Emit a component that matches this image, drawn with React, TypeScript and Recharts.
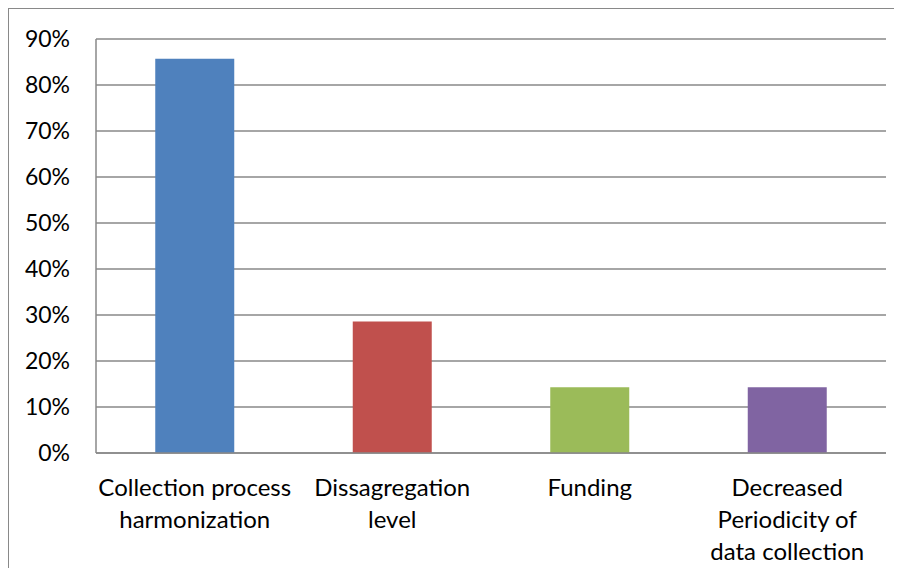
import React from 'react';
import { BarChart, Bar, XAxis, YAxis, CartesianGrid, Cell } from 'recharts';

const categories = [
    'Collection process\nharmonization',
    'Dissagregation\nlevel',
    'Funding',
    'Decreased\nPeriodicity of\ndata collection',
];
const shares = [0.857, 0.286, 0.143, 0.143];
const barColors = ['#4F81BD', '#C0504D', '#9BBB59', '#8064A2'];
const yTicks = [0, 0.1, 0.2, 0.3, 0.4, 0.5, 0.6, 0.7, 0.8, 0.9];

const FONT = 'Lato, "Open Sans", sans-serif';
const AXIS_GRAY = '#898989';

const data = categories.map((name, i) => ({ name, value: shares[i] }));

// multi-line category label, one tspan per line
const CategoryTick = ({ x, y, payload }: any) => {
    const lines = String(payload.value).split('\n');
    return (
        <text x={x} y={y} textAnchor="middle" fill="#000" fontSize={24} fontFamily={FONT}>
            {lines.map((line, i) => (
                <tspan key={i} x={x} dy={i === 0 ? 43 : 32}>
                    {line}
                </tspan>
            ))}
        </text>
    );
};

const App: React.FC = () => {
    return (
        <>
            {/* no scrollbars: the frame runs to the window edge like the source image */}
            <style>{'html, body { overflow: hidden; }'}</style>
            <div
                style={{
                    boxSizing: 'border-box',
                    width: 894,
                    height: 560,
                    borderTop: `1px solid ${AXIS_GRAY}`,
                    borderLeft: `1px solid ${AXIS_GRAY}`,
                    background: '#fff',
                    overflow: 'hidden',
                }}
            >
                <BarChart
                    width={893}
                    height={559}
                    data={data}
                    margin={{ top: 30, right: 16, bottom: 5, left: 7 }}
                    barCategoryGap="30%"
                >
                    <CartesianGrid vertical={false} stroke={AXIS_GRAY} strokeWidth={1.5} />
                    <XAxis
                        dataKey="name"
                        height={110}
                        interval={0}
                        tickLine={false}
                        tickSize={0}
                        tickMargin={0}
                        axisLine={{ stroke: AXIS_GRAY, strokeWidth: 1.5 }}
                        tick={<CategoryTick />}
                    />
                    <YAxis
                        width={80}
                        domain={[0, 0.9]}
                        ticks={yTicks}
                        interval={0}
                        tickLine={false}
                        tickSize={0}
                        tickMargin={26}
                        axisLine={{ stroke: AXIS_GRAY, strokeWidth: 1.5 }}
                        tickFormatter={(v: number) => `${Math.round(v * 100)}%`}
                        tick={{ fill: '#000', fontSize: 23, fontFamily: FONT }}
                    />
                    <Bar dataKey="value" isAnimationActive={false}>
                        {data.map((_d, i) => (
                            <Cell key={`bar-${i}`} fill={barColors[i]} />
                        ))}
                    </Bar>
                </BarChart>
            </div>
        </>
    );
};

export default App;
